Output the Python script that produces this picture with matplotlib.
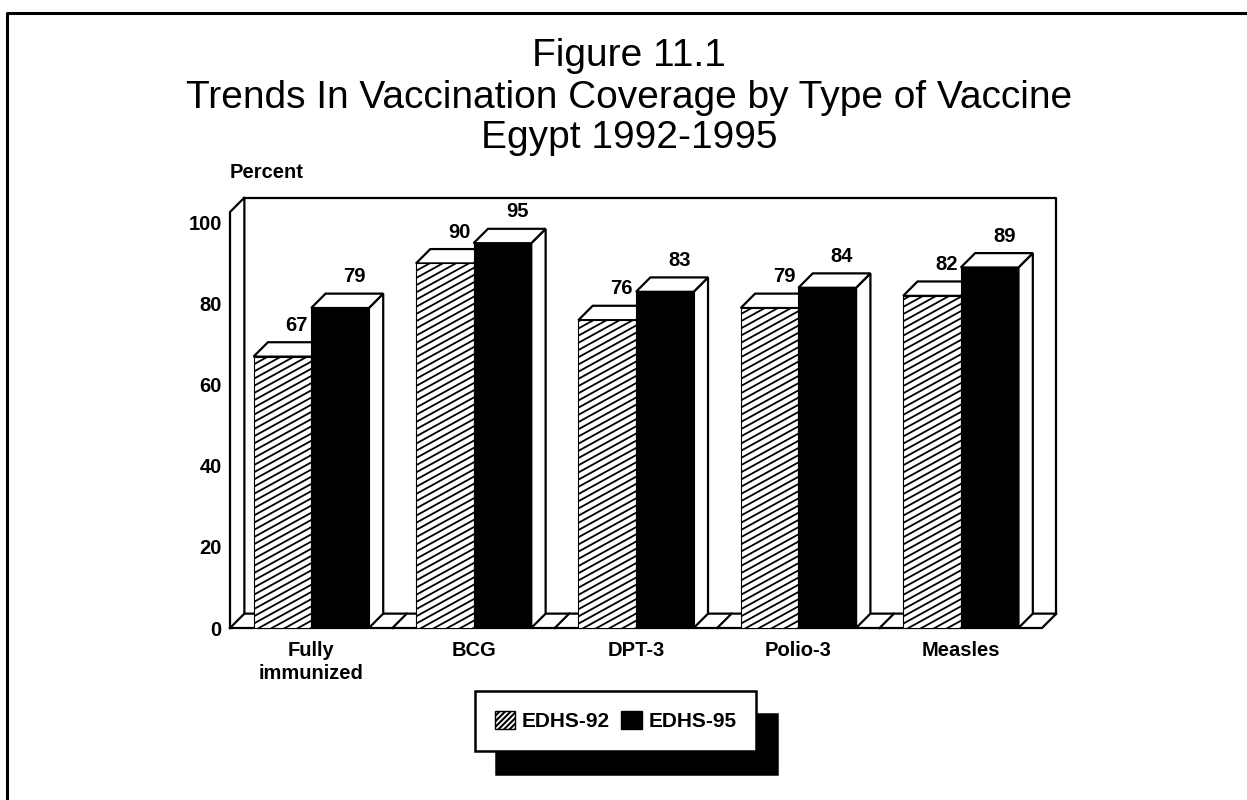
import matplotlib
matplotlib.use('Agg')
import matplotlib.pyplot as plt
from matplotlib.patches import Polygon, Patch
from matplotlib.lines import Line2D
from matplotlib.transforms import IdentityTransform

plt.rcParams['font.family'] = ['Liberation Sans', 'DejaVu Sans']
plt.rcParams['hatch.linewidth'] = 1.5

categories = ['Fully\nimmunized', 'BCG', 'DPT-3', 'Polio-3', 'Measles']
edhs92 = [67, 90, 76, 79, 82]
edhs95 = [79, 95, 83, 84, 89]
yticks = [0, 20, 40, 60, 80, 100]
title = ['Figure 11.1', 'Trends In Vaccination Coverage by Type of Vaccine', 'Egypt 1992-1995']

W, H = 1247, 800
fig = plt.figure(figsize=(W / 100, H / 100), dpi=100)

# plot area in pixels: front floor edge 230-1042, y 628 up to 212
ax = fig.add_axes([230 / W, 1 - 628 / H, (1042 - 230) / W, (628 - 212) / H])
ax.set_xlim(-0.5, 4.5)
ax.set_ylim(0, 102.7)
for s in ax.spines.values():
    s.set_visible(False)

dx = 0.0885  # depth of the fake 3d, data units
dy = 3.55
bar_w = 0.355
lw = 1.6
x0, x1 = -0.5, 4.5
ytop = 102.7

# walls and floor
ax.plot([x0, x0, x0 + dx, x0 + dx], [0, ytop, ytop + dy, dy], color='black', lw=lw, clip_on=False, zorder=1)
ax.plot([x0 + dx, x1 + dx, x1 + dx], [ytop + dy, ytop + dy, dy], color='black', lw=lw, clip_on=False, zorder=1)
ax.plot([x0, x1, x1 + dx, x0 + dx, x0], [0, 0, dy, dy, 0], color='black', lw=lw, clip_on=False, zorder=1)
for i in range(1, 5):
    ax.plot([x0 + i, x0 + i + dx], [0, dy], color='black', lw=lw, zorder=1, clip_on=False)

for i in range(len(categories)):
    for j, vals in enumerate([edhs92, edhs95]):
        left = i - bar_w + j * bar_w
        v = vals[i]
        # right side and top of the box
        ax.add_patch(Polygon([(left + bar_w, 0), (left + bar_w + dx, dy), (left + bar_w + dx, v + dy), (left + bar_w, v)],
                             fc='white', ec='black', lw=lw, zorder=2 + j * 2, clip_on=False))
        ax.add_patch(Polygon([(left, v), (left + dx, v + dy), (left + bar_w + dx, v + dy), (left + bar_w, v)],
                             fc='white', ec='black', lw=lw, zorder=2 + j * 2, clip_on=False))

bars92 = ax.bar([i - bar_w / 2 for i in range(5)], edhs92, bar_w, facecolor='white', edgecolor='black', lw=0.8, zorder=3)
bars95 = ax.bar([i + bar_w / 2 for i in range(5)], edhs95, bar_w, color='black', edgecolor='black', lw=0.8, zorder=5)

# shallow hatch lines, clipped to each bar (plain hatch only does 45 degrees)
for b in bars92:
    (px0, py0), (px1, py1) = ax.transData.transform([(b.get_x(), 0), (b.get_x() + b.get_width(), b.get_height())])
    slope = 0.55
    run = px1 - px0
    y = py0 - slope * run
    while y < py1:
        ln = Line2D([px0, px1], [y, y + slope * run], color='black', lw=1.3, transform=IdentityTransform(), zorder=3.5)
        ax.add_line(ln)
        ln.set_clip_path(b.get_path(), b.get_transform())
        y += 7.2

for bars, vals in ((bars92, edhs92), (bars95, edhs95)):
    for b, v in zip(bars, vals):
        ax.annotate(str(v), (b.get_x() + b.get_width() / 2, v), xytext=(10.5, 22.5), textcoords='offset points',
                    ha='center', va='center', fontsize=14.5, zorder=6, fontweight='bold')

ax.set_xticks(range(5))
ax.set_xticklabels(categories, fontsize=14.5, linespacing=1.3, fontweight='bold')
ax.set_yticks(yticks)
ax.set_yticklabels(yticks, fontsize=14.5, fontweight='bold')
ax.tick_params(axis='y', length=0, pad=6)
ax.tick_params(axis='x', length=0, pad=9)

handles = [Patch(facecolor='white', edgecolor='black', hatch='//////', label='EDHS-92'),
           Patch(facecolor='black', edgecolor='black', label='EDHS-95')]
leg = fig.legend(handles=handles, loc='center', bbox_to_anchor=(615.5 / W, 1 - 721 / H), ncol=2,
                 prop={'size': 15, 'weight': 'bold'},
                 fancybox=False, framealpha=1, edgecolor='black', handlelength=1.0, handleheight=1.0,
                 handletextpad=0.3, columnspacing=0.55, borderpad=0.95,
                 shadow={'ox': 15, 'oy': -16.5, 'facecolor': 'black', 'edgecolor': 'black', 'alpha': 1})
leg.get_frame().set_linewidth(1.8)

# title block
title_y = [66, 108, 148]
for t, y in zip(title, title_y):
    fig.text(629 / W, 1 - y / H, t, ha='center', va='baseline', fontsize=28)
fig.text(230 / W, 1 - 172 / H, 'Percent', ha='left', va='center', fontsize=14.5, fontweight='bold')

# page border, only top and left show
fig.add_artist(Line2D([7 / W, 7 / W, 1], [0, 1 - 13 / H, 1 - 13 / H], color='black', lw=2.2))

fig.savefig('out.png', dpi=100)
